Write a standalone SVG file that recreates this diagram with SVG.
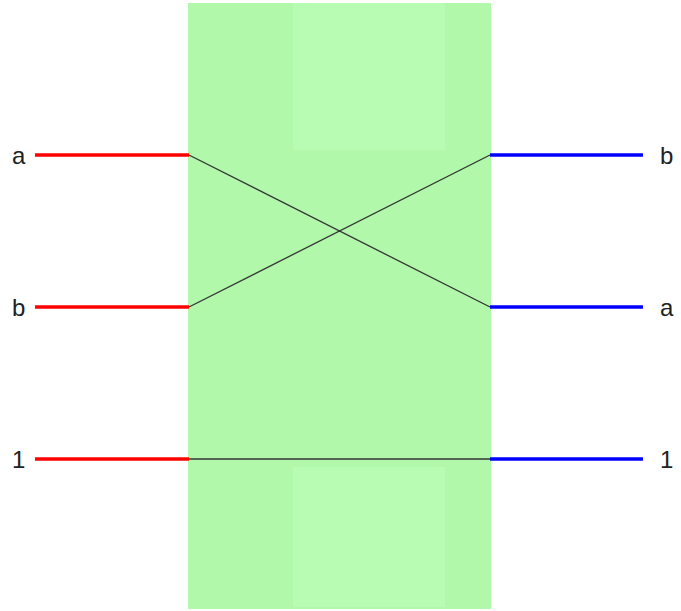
<svg xmlns="http://www.w3.org/2000/svg" width="681" height="611" viewBox="0 0 681 611">
<style>
.lbl{font-family:"Liberation Sans",Arial,sans-serif;font-size:24px;fill:#222}
.in{stroke:#ff0000;stroke-width:3.5;fill:none}
.out{stroke:#0000ff;stroke-width:3.5;fill:none}
.wire{stroke:#333;stroke-width:1.3;fill:none}
</style>
<rect width="681" height="611" fill="#ffffff"/>
<g id="box">
<rect x="188" y="3" width="303" height="606" fill="#b2f8ab"/>
<rect x="293" y="3" width="152" height="147" fill="#b8fcb4"/>
<rect x="293" y="467" width="152" height="140" fill="#b8fcb4"/>
</g>
<g id="connectors">
<line class="in" x1="35" y1="155" x2="189" y2="155"/>
<line class="in" x1="35" y1="307" x2="189" y2="307"/>
<line class="in" x1="35" y1="459" x2="189" y2="459"/>
<line class="out" x1="490" y1="155" x2="643" y2="155"/>
<line class="out" x1="490" y1="307" x2="643" y2="307"/>
<line class="out" x1="490" y1="459" x2="643" y2="459"/>
<line class="wire" x1="189" y1="155" x2="490" y2="307"/>
<line class="wire" x1="189" y1="307" x2="490" y2="155"/>
<line class="wire" x1="189" y1="459" x2="490" y2="459" stroke-width="2"/>
</g>
<g id="labels">
<text class="lbl" x="12" y="164">a</text>
<text class="lbl" x="12" y="316">b</text>
<text class="lbl" x="12" y="468">1</text>
<text class="lbl" x="660" y="164">b</text>
<text class="lbl" x="660" y="316">a</text>
<text class="lbl" x="660" y="468">1</text>
</g>
</svg>
